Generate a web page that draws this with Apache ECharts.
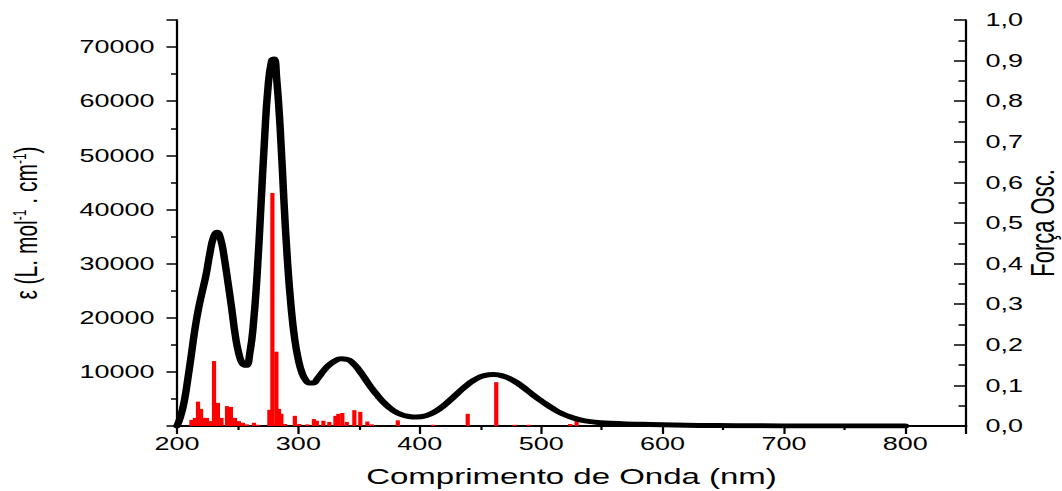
<!DOCTYPE html>
<html>
<head>
<meta charset="utf-8">
<script src="https://cdn.jsdelivr.net/npm/echarts@6/dist/echarts.min.js"></script>
<style>
  html, body { margin: 0; padding: 0; overflow: hidden; background: #fff; }
  /* o gráfico original está esticado na horizontal, por isso escala 1.5 em x */
  #chart { width: 708px; height: 491px; transform: scaleX(1.5); transform-origin: 0 0; }
</style>
</head>
<body>
<div id="chart"></div>
<script>
// espectro simulado (comprimento de onda nm / epsilon)
const wavelengths = [200, 203, 206, 209, 212, 215, 218, 221, 224, 227, 230, 233, 236, 239, 242, 245, 248, 251,
  254, 257, 260, 263, 266, 269, 272, 275, 278, 280, 282, 285, 288, 291, 294, 297, 300, 303, 306, 309, 312, 316,
  320, 325, 330, 335, 340, 345, 350, 355, 360, 365, 370, 375, 380, 385, 390, 397, 405, 413, 421, 429, 437, 445,
  453, 461, 469, 477, 485, 493, 501, 509, 517, 525, 533, 541, 549, 557, 570, 590, 610, 630, 660, 700, 750, 800]
const epsilon = [0, 1800, 4600, 8800, 13500, 18200, 22000, 25000, 28000, 31800, 34800, 35800, 34500, 31000,
  26500, 21800, 16800, 13300, 11500, 11200, 13500, 19000, 28000, 40000, 52500, 62600, 67500, 67800, 64500,
  55000, 42000, 30500, 22000, 16000, 12200, 9800, 8500, 7950, 7950, 8800, 10000, 11200, 12000, 12400, 12300,
  11600, 10300, 8700, 7100, 5700, 4400, 3400, 2600, 2100, 1800, 1650, 1900, 2700, 4000, 5600, 7200, 8500, 9300,
  9500, 9200, 8400, 7200, 5800, 4500, 3300, 2300, 1600, 1100, 800, 620, 500, 380, 270, 180, 110, 50, 20, 5, 0]

// transições (nm / força do oscilador)
const barNm = [211.9, 214.8, 217.3, 219.8, 222.2, 224.7, 227.2, 230.5, 233.7, 236.6, 241.2, 244.4, 247.7, 251,
  254.3, 257.6, 263.4, 266.7, 276.1, 278.6, 281.9, 284, 286, 288.9, 297.1, 300.8, 307.4, 312.8, 315.2, 320.6,
  325.5, 330.5, 332.9, 336.2, 339.9, 346.1, 351, 356.8, 360.5, 381.9, 411.1, 439.5, 463, 478.2, 489.7, 523.9, 529.2]
const barF = [0.015, 0.02, 0.06, 0.042, 0.02, 0.02, 0.012, 0.16, 0.057, 0.02, 0.049, 0.047, 0.02, 0.012,
  0.008, 0.004, 0.008, 0.003, 0.04, 0.574, 0.183, 0.042, 0.03, 0.005, 0.025, 0.005, 0.004, 0.017, 0.013, 0.013,
  0.01, 0.025, 0.03, 0.032, 0.01, 0.039, 0.035, 0.011, 0.004, 0.014, 0.003, 0.03, 0.108, 0.003, 0.003, 0.005, 0.012]

const curveData = wavelengths.map((x, i) => [x, epsilon[i]])
const barData = barNm.map((x, i) => [x, barF[i]])

const axisFont = 'Liberation Sans, Arial, sans-serif'

const chart = echarts.init(document.getElementById('chart'), null, { renderer: 'svg' })
chart.setOption({
  animation: false,
  backgroundColor: '#fff',
  grid: {
    left: 118,
    right: 64,
    top: 20,
    bottom: 65,
    containLabel: false,
    outerBoundsMode: 'none'
  },
  xAxis: {
    type: 'value',
    min: 200,
    max: 850,
    interval: 100,
    name: 'Comprimento de Onda (nm)',
    nameLocation: 'middle',
    nameGap: 40,
    nameTextStyle: { fontFamily: axisFont, fontSize: 22, color: '#000' },
    axisLine: { lineStyle: { color: '#000', width: 2 } },
    axisTick: { inside: false, length: 8, lineStyle: { color: '#000', width: 1.5 } },
    minorTick: { show: true, splitNumber: 2, length: 4, lineStyle: { color: '#000', width: 1.5 } },
    splitLine: { show: false },
    axisLabel: {
      color: '#000',
      fontFamily: axisFont,
      fontSize: 18,
      margin: 9,
      showMaxLabel: false,
      formatter(v) {
        return v > 800 ? '' : v
      }
    }
  },
  yAxis: [{
    type: 'value',
    min: 0,
    max: 75000,
    interval: 10000,
    name: 'ε (L. mol{sup|-1} . cm{sup|-1})',
    nameLocation: 'middle',
    nameRotate: 90,
    nameGap: 90,
    nameTextStyle: {
      fontFamily: axisFont,
      fontSize: 21,
      color: '#000',
      rich: {
        sup: { fontSize: 12, verticalAlign: 'top', lineHeight: 12 }
      }
    },
    axisLine: { show: true, lineStyle: { color: '#000', width: 1.5 } },
    axisTick: { inside: false, length: 7, lineStyle: { color: '#000', width: 1.5 } },
    minorTick: { show: true, splitNumber: 2, length: 4, lineStyle: { color: '#000', width: 1.5 } },
    splitLine: { show: false },
    axisLabel: {
      color: '#000',
      fontFamily: axisFont,
      fontSize: 18,
      margin: 15,
      showMaxLabel: false,
      formatter(v) {
        return v === 0 || v > 70000 ? '' : v
      }
    }
  }, {
    type: 'value',
    position: 'right',
    min: 0,
    max: 1,
    interval: 0.1,
    name: 'Força Osc.',
    nameLocation: 'middle',
    nameRotate: 90,
    nameGap: 51,
    nameMoveOverlap: false,
    nameTextStyle: { fontFamily: axisFont, fontSize: 22, color: '#000', verticalAlign: 'middle' },
    axisLine: { show: true, lineStyle: { color: '#000', width: 1.5 } },
    axisTick: { inside: true, length: 8, lineStyle: { color: '#000', width: 1.5 } },
    minorTick: { show: true, splitNumber: 2, length: 5, lineStyle: { color: '#000', width: 1.5 } },
    splitLine: { show: false },
    axisLabel: {
      color: '#000',
      fontFamily: axisFont,
      fontSize: 18,
      margin: 13,
      formatter(v) {
        return v.toFixed(1).replace('.', ',')
      }
    }
  }],
  series: [{
    name: 'espectro',
    type: 'line',
    yAxisIndex: 0,
    data: curveData,
    smooth: 0.5,
    showSymbol: false,
    lineStyle: { color: '#000', width: 5, join: 'round', cap: 'round' },
    itemStyle: { color: '#000' }
  }, {
    name: 'forca',
    type: 'bar',
    yAxisIndex: 1,
    data: barData,
    barWidth: 2.8,
    itemStyle: { color: '#ff0000' }
  }]
})
</script>
</body>
</html>
